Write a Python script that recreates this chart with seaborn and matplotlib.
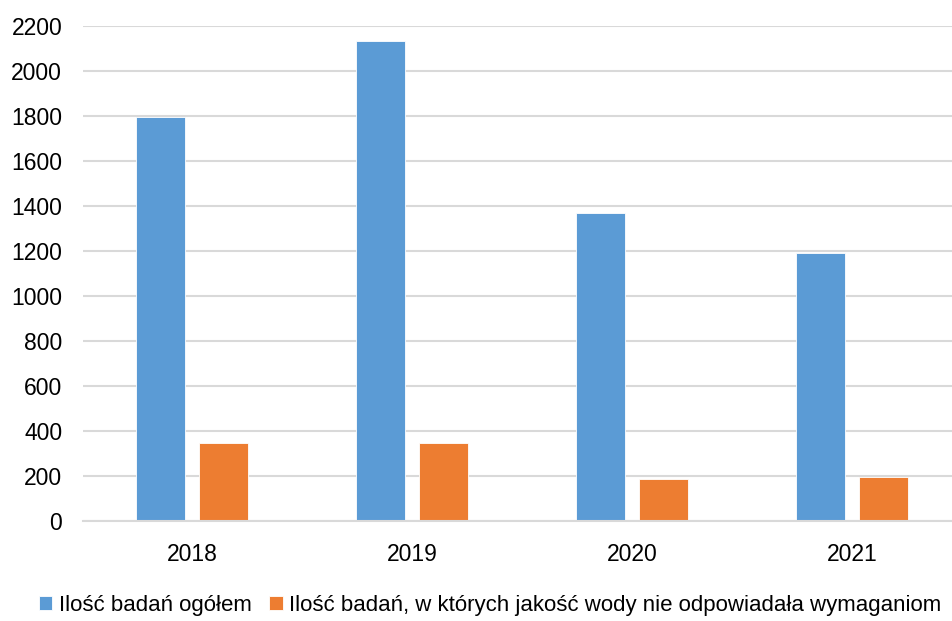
import pandas as pd
import numpy as np
import matplotlib.pyplot as plt
import seaborn as sns

# Data
years = ["2018", "2019", "2020", "2021"]
total_tests = [1795, 2132, 1367, 1193]
failed_tests = [345, 345, 187, 196]
series_names = ["Ilość badań ogółem",
                "Ilość badań, w których jakość wody nie odpowiadała wymaganiom"]

df = pd.DataFrame({
    "Rok": years * 2,
    "Wartość": total_tests + failed_tests,
    "Seria": [series_names[0]] * len(years) + [series_names[1]] * len(years),
})

sns.set_style("white")
plt.rcParams['font.family'] = ['Liberation Sans', 'DejaVu Sans']
plt.rcParams['text.color'] = 'black'

fig = plt.figure(figsize=(9.52, 6.21), dpi=100)
ax = fig.add_axes([83 / 952, 1 - 521 / 621, 1 - 83 / 952, (521 - 26) / 621])

sns.barplot(data=df, x="Rok", y="Wartość", hue="Seria",
            palette=["#5B9BD5", "#ED7D31"], width=0.573, gap=0.22,
            saturation=1, edgecolor="white", linewidth=0.6, ax=ax)

ax.set_xlim(-0.495, 3.455)
ax.set_ylim(0, 2200)
ax.set_yticks(np.arange(0, 2201, 200))
ax.yaxis.grid(True, color="#D9D9D9", linewidth=1.5)
ax.set_axisbelow(True)
ax.set_xlabel("")
ax.set_ylabel("")
for s in ["top", "right", "left"]:
    ax.spines[s].set_visible(False)
ax.spines["bottom"].set_color("#D9D9D9")
ax.spines["bottom"].set_linewidth(1.5)
ax.tick_params(axis="both", length=0, labelsize=16.5, colors="black")
ax.tick_params(axis="y", pad=15)
ax.tick_params(axis="x", pad=16)

handles, labels = ax.get_legend_handles_labels()
ax.legend_.remove()
leg = fig.legend(handles, labels, loc="center", bbox_to_anchor=(490 / 952, 1 - 605 / 621),
                 ncol=2, frameon=False, fontsize=16, handlelength=0.6, handleheight=0.6,
                 handletextpad=0.3, columnspacing=0.8)
for t in leg.get_texts():
    t.set_color("black")

fig.savefig("out.png", dpi=100)
